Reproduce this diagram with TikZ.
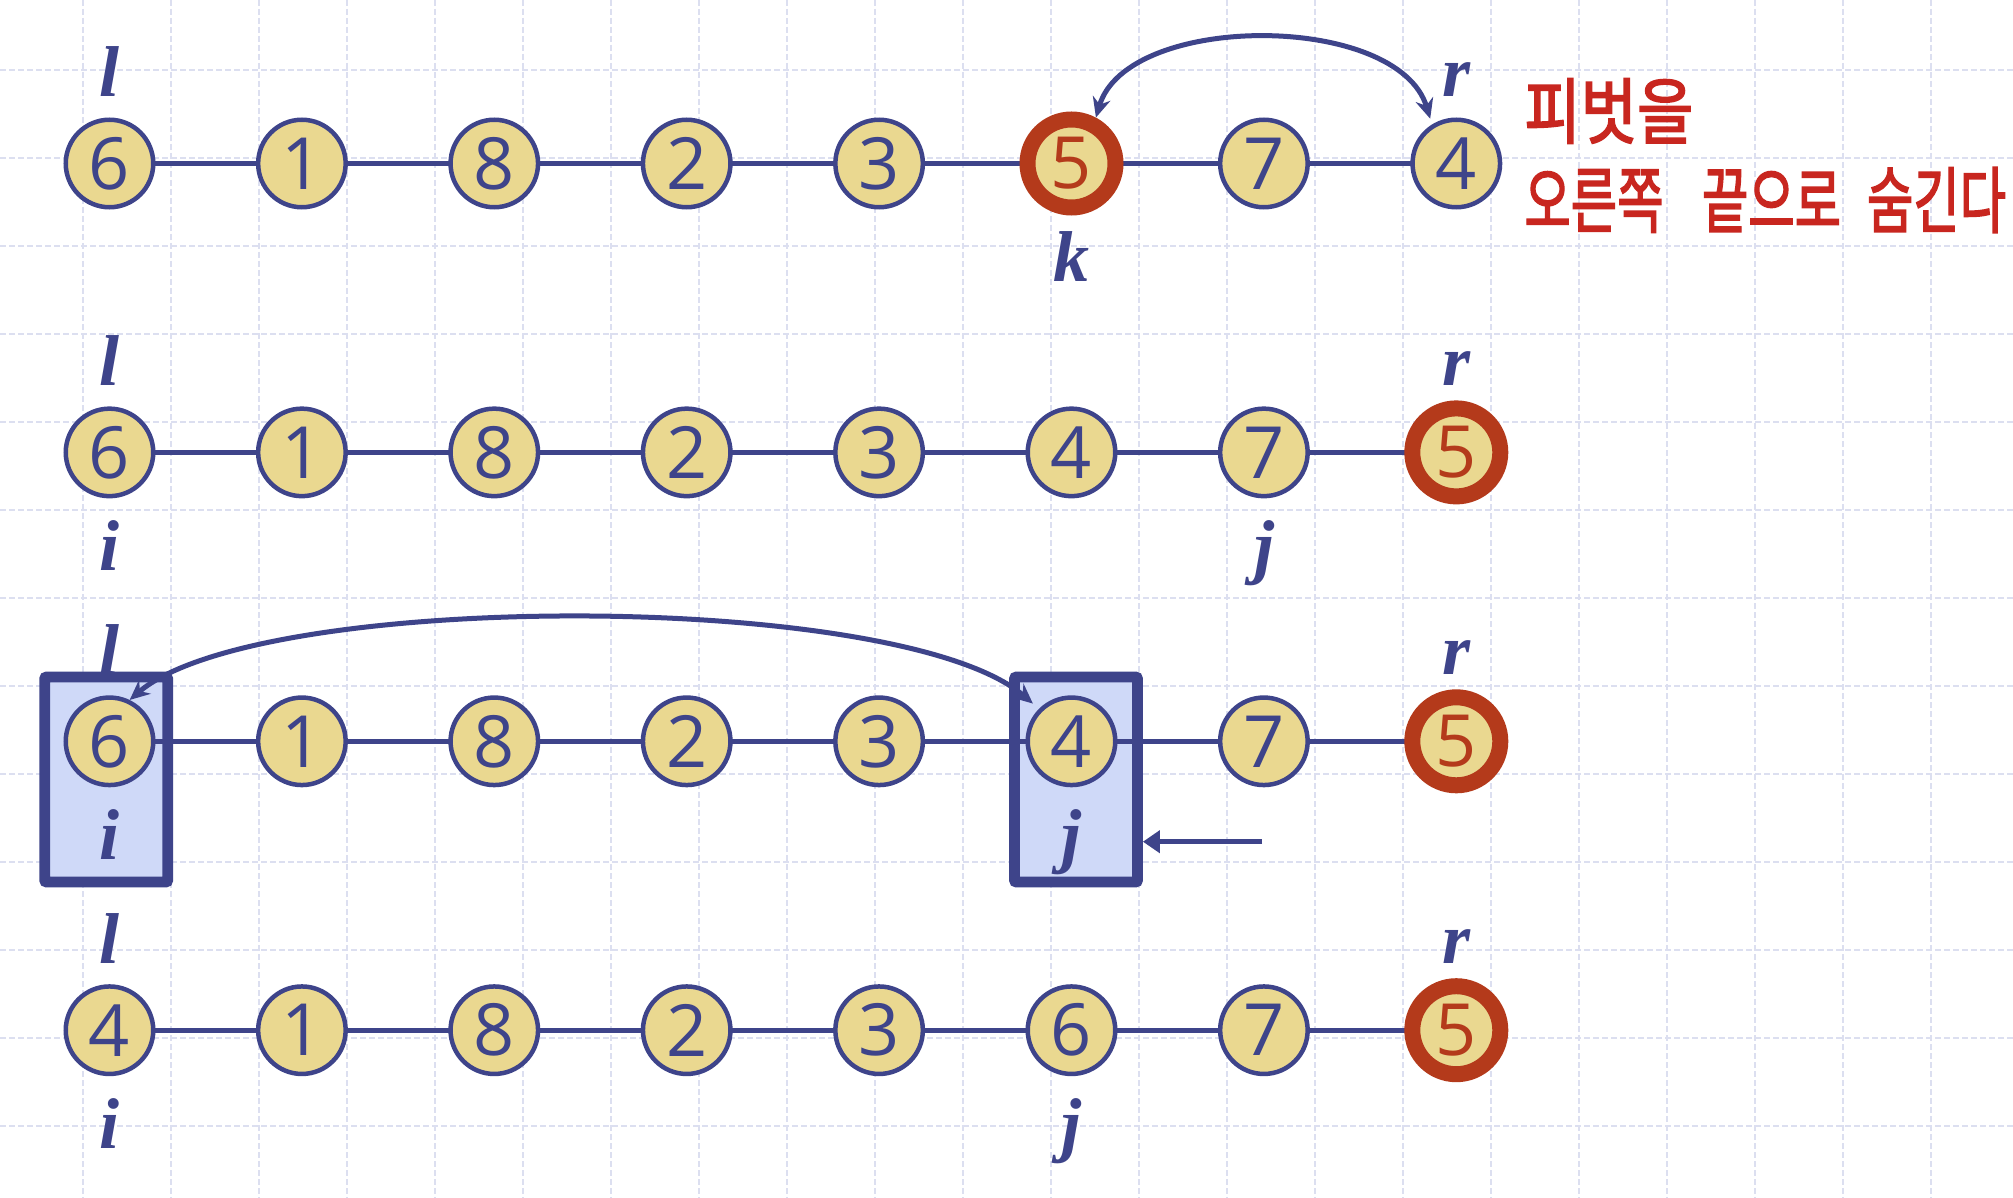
\documentclass[tikz,border=0pt]{standalone}
\usepackage{fontspec}
\usepackage{graphicx}
\setmainfont{Liberation Serif}
\newfontfamily\digitfont{Open Sans}
\newfontfamily\kfont[AutoFakeBold=2.5]{Noto Sans CJK KR}
\usetikzlibrary{arrows.meta,backgrounds}
\definecolor{nblue}{HTML}{3E448A}
\definecolor{nyellow}{HTML}{EAD890}
\definecolor{nred}{HTML}{B43A1B}
\definecolor{boxfill}{HTML}{CFD9F8}
\definecolor{kred}{HTML}{C8261F}
\definecolor{gridc}{HTML}{DCDFF0}
\tikzset{
 num/.style={circle, draw=nblue, fill=nyellow, line width=2.25pt, minimum size=43.75pt, inner sep=0pt,
   font=\digitfont\fontsize{36}{36}\selectfont, text=nblue},
 pivot/.style={num, draw=nred, line width=8pt, minimum size=44pt, text=nred},
 lab/.style={anchor=base, text=nblue, inner sep=0pt, font=\fontsize{36}{36}\selectfont\bfseries\itshape},
 chain/.style={draw=nblue, line width=2.5pt},
 selbox/.style={draw=nblue, fill=boxfill, line width=5.4pt, rounded corners=1pt,
   minimum width=61.5pt, minimum height=102.5pt, inner sep=0pt},
 xchg/.style={draw=nblue, line width=2.5pt, {Stealth[length=10pt,width=9pt]}-{Stealth[length=10pt,width=9pt]}},
 gridline/.style={draw=gridc, line width=0.8pt, dash pattern=on 3pt off 1.5pt},
 kor/.style={anchor=west, inner sep=0pt, text=kred, font=\kfont\bfseries\fontsize{36}{36}\selectfont},
}
\begin{document}
\begin{tikzpicture}[x=0.5pt, y=-0.5pt]
\useasboundingbox (0,0) rectangle (2013,1198);
% rows of nodes
\foreach \v/\s [count=\i from 0] in {6/num,1/num,8/num,2/num,3/num,5/pivot,7/num,4/num}
  \node[\s] (r1n\i) at ({109.5+192.4*\i},163.5) {\v};
\foreach \v/\s [count=\i from 0] in {6/num,1/num,8/num,2/num,3/num,4/num,7/num,5/pivot}
  \node[\s] (r2n\i) at ({109.5+192.4*\i},452.4) {\v};
\foreach \v/\s [count=\i from 0] in {6/num,1/num,8/num,2/num,3/num,4/num,7/num,5/pivot}
  \node[\s] (r3n\i) at ({109.5+192.4*\i},741.3) {\v};
\foreach \v/\s [count=\i from 0] in {4/num,1/num,8/num,2/num,3/num,6/num,7/num,5/pivot}
  \node[\s] (r4n\i) at ({109.5+192.4*\i},1030.2) {\v};
\begin{pgfonlayer}{background}
  \fill[white] (0,0) rectangle (2013,1198);
  \foreach \k in {0,...,21} \draw[gridline] ({83+88*\k},0) -- ({83+88*\k},1198);
  \foreach \k in {0,...,12} \draw[gridline] (0,{70+88*\k}) -- (2013,{70+88*\k});
  \node[selbox] (boxA) at (106.2,779.5) {};
  \node[selbox] (boxB) at (1076,779.5) {};
  \draw[chain] (r1n0.center) -- (r1n7.center);
  \draw[chain] (r2n0.center) -- (r2n7.center);
  \draw[chain] (r3n0.center) -- (r3n7.center);
  \draw[chain] (r4n0.center) -- (r4n7.center);
\end{pgfonlayer}
% labels
\node[lab] (l1) at (109.5,96.5) {l};
\node[lab] (rr1) at (1456.3,96.5) {r};
\node[lab] (k1) at (1071.7,281.5) {k};
\node[lab] (l2) at (109.5,385.4) {l};
\node[lab] (rr2) at (1456.3,385.4) {r};
\node[lab] (i2) at (109.5,570.4) {i};
\node[lab] (j2) at (1264.1,570.4) {j};
\node[lab] (l3) at (109.5,674.3) {l};
\node[lab] (rr3) at (1456.3,674.3) {r};
\node[lab] (i3) at (109.5,859.3) {i};
\node[lab] (j3) at (1071.7,859.3) {j};
\node[lab] (l4) at (109.5,963.2) {l};
\node[lab] (rr4) at (1456.3,963.2) {r};
\node[lab] (i4) at (109.5,1148.2) {i};
\node[lab] (j4) at (1071.7,1148.2) {j};
% arrows
\draw[xchg, shorten >=3pt] (r1n5.62) .. controls (1127,12) and (1398,12) .. (r1n7.122);
\draw[xchg, shorten >=4pt] (r3n0.64) .. controls (258,590) and (900,590) .. (r3n5.135);
\coordinate (jstart) at (1262,841.7);
\draw[chain, -{Triangle[length=8.5pt,width=11pt]}] (jstart) -- (boxB.east |- jstart);
% Korean note
\node[kor] (note1) at (1524,111) {\scalebox{0.85}[1]{피벗을}};
\node[kor] (note2) at (1524,200) {\scalebox{0.70}[1]{오른쪽\hspace{27.5pt}끝으로\hspace{18.5pt}숨긴다}};
\end{tikzpicture}
\end{document}
